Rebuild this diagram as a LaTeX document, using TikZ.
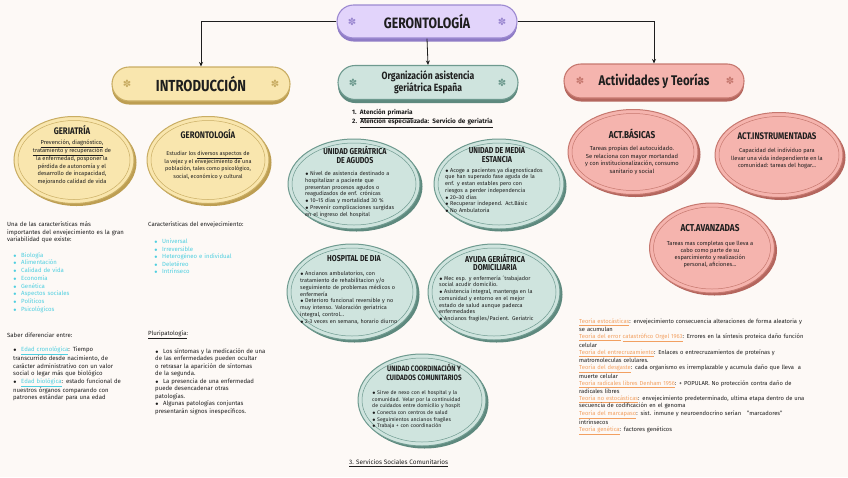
\documentclass[tikz,border=0pt]{standalone}
\usepackage{fontspec}
\IfFontExistsTF{FiraSans-Medium.otf}{\setmainfont{FiraSans}[Extension=.otf, UprightFont=*-Medium, BoldFont=*-Bold]}{\setmainfont{Fira Sans}}
\newfontfamily\hdfont{Fira Sans}[FakeStretch=0.82]
\newfontfamily\symfont{DejaVu Sans}
\usetikzlibrary{shapes.geometric,arrows.meta}
\definecolor{bg}{HTML}{FDF9F6}
\definecolor{ink}{HTML}{1E1E1E}
\definecolor{purF}{HTML}{E2D4FB}\definecolor{purL}{HTML}{9C89D1}\definecolor{purD}{HTML}{8F7CC6}
\definecolor{yelF}{HTML}{F9E6AE}\definecolor{yelL}{HTML}{C9AD63}\definecolor{yelD}{HTML}{BD9E52}
\definecolor{tealF}{HTML}{CFE4DE}\definecolor{tealL}{HTML}{6E9A8F}\definecolor{tealD}{HTML}{5E897E}
\definecolor{pinkF}{HTML}{F5B4AE}\definecolor{pinkL}{HTML}{C6786F}\definecolor{pinkD}{HTML}{B4665E}
\definecolor{cyanT}{HTML}{4FCFE0}
\definecolor{orangeT}{HTML}{F2A061}
\newcommand\bul{{\fontsize{5}{5}\selectfont$\bullet$}}
\newcommand\itm{\par\hangindent=5pt\hangafter=1\noindent\makebox[5pt][l]{\bul}}
\newcommand\citm{\par\hangindent=8pt\hangafter=1\noindent\makebox[8pt][l]{\textcolor{cyanT}{\bul}}}
\newcommand\ditm{\par\hangindent=8pt\hangafter=1\noindent\makebox[8pt][l]{\bul}}
\newcommand\orng[1]{\textcolor{orangeT}{\underline{#1}}}
\newcommand\pill[7]{%
  \node[fill=#7D, rounded corners=#6pt, minimum width=#4pt, minimum height=#5pt, inner sep=0] (#1S) at (#2,#3+3.5) {};
  \node[fill=#7F, draw=#7L, line width=1.1pt, rounded corners=#6pt, minimum width=#4pt, minimum height=#5pt, inner sep=0] (#1) at (#2,#3) {};
}
\newcommand\blob[6]{%
  \node[ellipse, fill=#6D, minimum width=#4pt, minimum height=#5pt, inner sep=0] (#1S) at (#2+2.5,#3+2.5) {};
  \node[ellipse, fill=#6F, draw=#6L, line width=1pt, minimum width=#4pt, minimum height=#5pt, inner sep=0] (#1) at (#2,#3) {};
  \node[ellipse, draw=#6L, line width=0.5pt, minimum width={#4pt-8pt}, minimum height={#5pt-8pt}, inner sep=0] (#1I) at (#2,#3) {};
}
\begin{document}
\begin{tikzpicture}[x=1pt,y=-1pt,
  txt/.style={inner sep=0, text=ink, align=left},
  ctxt/.style={inner sep=0, text=ink, align=center},
  conn/.style={draw=ink, line width=0.8pt, -{Stealth[length=4.5pt,width=4pt]}},
  star/.style={inner sep=0, font=\symfont\fontsize{10}{10}\selectfont},
  btitle/.style={inner sep=0, text=ink, align=center, font=\hdfont\bfseries\fontsize{8.6}{8.8}\selectfont},
  body/.style={inner sep=0, text=ink, align=left, font=\fontsize{5.5}{6.75}\selectfont},
  cbody/.style={inner sep=0, text=ink, align=center, font=\fontsize{5.8}{7.8}\selectfont}]
\fill[bg] (0,0) rectangle (848,477);
\useasboundingbox (0,0) rectangle (848,477);

% ---------- pills ----------
\pill{title}{427}{21.5}{180}{33}{16.5}{pur}
\pill{intro}{201}{84}{178}{34}{17}{yel}
\pill{org}{428}{82.5}{180}{34}{17}{teal}
\pill{act}{654}{81}{180}{34}{17}{pink}

\node[inner sep=0, text=ink, font=\hdfont\bfseries\fontsize{15}{15}\selectfont] (titleT) at (427,21.5) {GERONTOLOGÍA};
\node[star, text=purL] (titleA) at (352,21.5) {✽};
\node[star, text=purL] (titleB) at (502,21.5) {✽};

\node[inner sep=0, text=ink, font=\hdfont\bfseries\fontsize{16}{16}\selectfont] (introT) at (201,84) {INTRODUCCIÓN};
\node[star, text=yelL] (introA) at (127,84) {✽};
\node[star, text=yelL] (introB) at (275,84) {✽};

\node[ctxt, font=\hdfont\bfseries\fontsize{10.5}{11.5}\selectfont] (orgT) at (428,82.5) {Organización asistencia\\geriátrica España};
\node[star, text=tealL] (orgA) at (353,82.5) {✽};
\node[star, text=tealL] (orgB) at (502,82.5) {✽};

\node[inner sep=0, text=ink, font=\hdfont\bfseries\fontsize{14}{14}\selectfont] (actT) at (654,81) {Actividades y Teorías};
\node[star, text=pinkL] (actA) at (580,81) {✽};
\node[star, text=pinkL] (actB) at (730,81) {✽};

% ---------- connectors ----------
\draw[conn] (title.west) -| (intro.north);
\draw[conn] (title.east) -| (act.north);
\draw[conn] (title.south) -- (org.north);

% ---------- left ellipses ----------
\blob{ger}{74}{160}{120}{87}{yel}
\node[btitle, font=\hdfont\bfseries\fontsize{9.5}{9.5}\selectfont] (gerT) at (72,130) {GERIATRÍA};
\node[cbody, font=\fontsize{5.7}{7.8}\selectfont] (gerB) at (72,162.5) {\underline{Prevención, diagnóstico,}\\\underline{tratamiento y recuperación} de\\la enfermedad, posponer la\\pérdida de autonomía y el\\desarrollo de incapacidad,\\mejorando calidad de vida};

\blob{gero}{208}{160}{122}{87}{yel}
\node[btitle, font=\hdfont\bfseries\fontsize{9.5}{9.5}\selectfont] (geroT) at (208,134) {GERONTOLOGÍA};
\node[cbody, font=\fontsize{5.5}{7.6}\selectfont] (geroB) at (208,165.5) {Estudiar los \underline{diversos aspectos} de\\la vejez y el envejecimiento de una\\población, tales como psicológico,\\social, económico y cultural};

% ---------- left texts ----------
\node[txt, anchor=west, text width=140pt, font=\fontsize{6}{7.6}\selectfont] (var) at (7,232.6) {Una de las características más\\importantes del envejecimiento es la gran\\variabilidad que existe:};
\node[txt, anchor=west, text width=120pt, text=cyanT, font=\fontsize{6}{7.7}\selectfont] (varL) at (13,281) {%
\citm Biología\citm Alimentación\citm Calidad de vida\citm Economía\citm Genética\citm Aspectos sociales\citm Políticos\citm Psicológicos};

\node[txt, anchor=west, text width=140pt, font=\fontsize{6}{7.6}\selectfont] (car) at (148,225) {Características del envejecimiento:};
\node[txt, anchor=west, text width=120pt, text=cyanT, font=\fontsize{6}{7.6}\selectfont] (carL) at (154,255) {%
\citm Universal\citm Irreversible\citm Heterogéneo e individual\citm Deletéreo\citm Intrínseco};

\node[txt, anchor=west, text width=140pt, font=\fontsize{6}{7.6}\selectfont] (sab) at (7,335) {Saber diferenciar entre:};
\node[txt, anchor=west, text width=125pt, font=\fontsize{6}{7.5}\selectfont] (sabL) at (13,372.5) {%
\ditm \textcolor{cyanT}{\underline{Edad cronológica}}: Tiempo\\transcurrido desde nacimiento, de\\carácter administrativo con un valor\\social o legar más que biológico
\ditm \textcolor{cyanT}{\underline{Edad biológica}}: estado funcional de\\nuestros órganos comparando con\\patrones estándar para una edad};

\node[txt, anchor=west, text width=140pt, font=\fontsize{6}{7.6}\selectfont] (plu) at (148,335) {\underline{Pluripatología}:};
\node[txt, anchor=west, text width=130pt, font=\fontsize{6}{7.5}\selectfont] (pluL) at (155,380) {%
\ditm Los síntomas y la medicación de una\\de las enfermedades pueden ocultar\\o retrasar la aparición de síntomas\\de la segunda.
\ditm La presencia de una enfermedad\\puede desencadenar otras\\patologías.
\ditm Algunas patologías conjuntas\\presentarán signos inespecíficos.};

% ---------- middle ----------
\node[txt, anchor=west, text width=180pt, font=\bfseries\fontsize{6.4}{9}\selectfont] (aten) at (352,118.5) {1. \underline{Atención primaria}\\2. \underline{Atención especializada: Servicio de geriatría}};

\blob{agu}{354}{184}{132}{90}{teal}
\node[btitle] (aguT) at (355,155) {UNIDAD GERIÁTRICA\\DE AGUDOS};
\node[body, anchor=west, text width=108pt] (aguB) at (305,193) {%
\itm Nivel de asistencia destinado a\\hospitalizar a paciente que\\presentan procesos agudos o\\reagudizados de enf. crónicas
\itm 10–15 días y mortalidad 30 \%
\itm Prevenir complicaciones surgidas\\en el ingreso del hospital};

\blob{med}{499}{184}{130}{90}{teal}
\node[btitle] (medT) at (497,155) {UNIDAD DE MEDIA\\ESTANCIA};
\node[body, anchor=west, text width=118pt] (medB) at (445,189) {%
\itm Acoge a pacientes ya diagnosticados\\que han superado fase aguda de la\\enf. y estan estables pero con\\riesgos a perder independencia
\itm 20–30 días
\itm Recuperar independ. Act.Básic
\itm No Ambulatoria};

\blob{hos}{352}{292}{130}{96}{teal}
\node[btitle] (hosT) at (354,259) {HOSPITAL DE DIA};
\node[body, anchor=west, text width=118pt] (hosB) at (300,296.5) {%
\itm Ancianos ambulatorios, con\\tratamiento de rehabilitacion y/o\\seguimiento de problemas médicos o\\enfermería
\itm Deterioro funcional reversible y no\\muy intenso. Valoración geriatrica\\integral, control...
\itm 2-3 veces en semana, horario diurno};

\blob{ayu}{494}{292}{132}{96}{teal}
\node[btitle] (ayuT) at (495,262.5) {AYUDA GERIÁTRICA\\DOMICILIARIA};
\node[body, anchor=west, text width=118pt] (ayuB) at (439,297.5) {%
\itm Mec esp. y enfermería ´trabajador\\social acudir domicilio.
\itm Asistencia integral, mantenga en la\\comunidad y entorno en el mejor\\estado de salud aunque padezca\\enfermedades
\itm Ancianos fragiles/Pacient. Geriatric};

\blob{coo}{422}{400}{128}{92}{teal}
\node[btitle, font=\hdfont\bfseries\fontsize{7.8}{8.8}\selectfont] (cooT) at (424,372.5) {UNIDAD COORDINACIÓN Y\\CUIDADOS COMUNITARIOS};
\node[body, anchor=west, text width=110pt, font=\fontsize{5.2}{6.6}\selectfont] (cooB) at (372,408.5) {%
\itm Sirve de nexo con el hospital y la\\comunidad. Velar por la continuidad\\de cuidados entre domicilio y hospit
\itm Conecta con centros de salud
\itm Seguimientos ancianos fragiles
\itm Trabaja + con coordinación};

\node[txt, anchor=west, font=\fontsize{6.4}{8}\selectfont] (ssc) at (349,463) {\underline{3. Servicios Sociales Comunitarios}};

% ---------- right ----------
\blob{bas}{633}{152}{130}{85}{pink}
\node[btitle, font=\hdfont\bfseries\fontsize{10}{10}\selectfont] (basT) at (632,134) {ACT.BÁSICAS};
\node[cbody, font=\fontsize{5.8}{7.7}\selectfont] (basB) at (632,160.5) {Tareas propias del autocuidado.\\Se relaciona con mayor mortandad\\y con institucionalización, consumo\\sanitario y social};

\blob{ins}{779}{155}{128}{85}{pink}
\node[btitle, font=\hdfont\bfseries\fontsize{9.6}{10}\selectfont] (insT) at (777,136) {ACT.INSTRUMENTADAS};
\node[cbody, font=\fontsize{5.7}{7.6}\selectfont] (insB) at (777,158.5) {Capacidad del individuo para\\llevar una vida independiente en la\\comunidad: tareas del hogar...};

\blob{ava}{712}{248}{125}{90}{pink}
\node[btitle, font=\hdfont\bfseries\fontsize{10}{10}\selectfont] (avaT) at (710,228) {ACT.AVANZADAS};
\node[cbody, font=\fontsize{5.7}{7.2}\selectfont] (avaB) at (710,254.5) {Tareas mas completas que lleva a\\cabo como parte de su\\esparcimiento y realización\\personal, aficiones...};

\node[txt, anchor=west, text width=268pt, font=\fontsize{5.8}{7.43}\selectfont] (teo) at (579,377) {%
\orng{Teoría estocásticas}: envejecimiento consecuencia alteraciones de forma aleatoria y\\
se acumulan\\
\orng{Teoría del error} \orng{catastrófico Orgel 1963}: Errores en la síntesis proteica daño función\\
celular\\
\orng{Teoría del entrecruzamiento}: Enlaces o entrecruzamientos de proteínas y\\
matromoleculas celulares.\\
\orng{Teoría del desgaste}: cada organismo es irremplazable y acumula daño que lleva \ a\\
muerte celular\\
\orng{Teoría radicales libres Denham 1956}: + POPULAR. No protección contra daño de\\
radicales libres\\
\orng{Teoría no estocásticas}: envejecimiento predeterminado, ultima etapa dentro de una\\
secuencia de codificación en el genoma\\
\orng{Teoría del marcapaso}: sist. inmune y neuroendocrino serían \ \ "marcadores"\\
intrínsecos\\
\orng{Teoría genética}: factores genéticos};
\end{tikzpicture}
\end{document}
